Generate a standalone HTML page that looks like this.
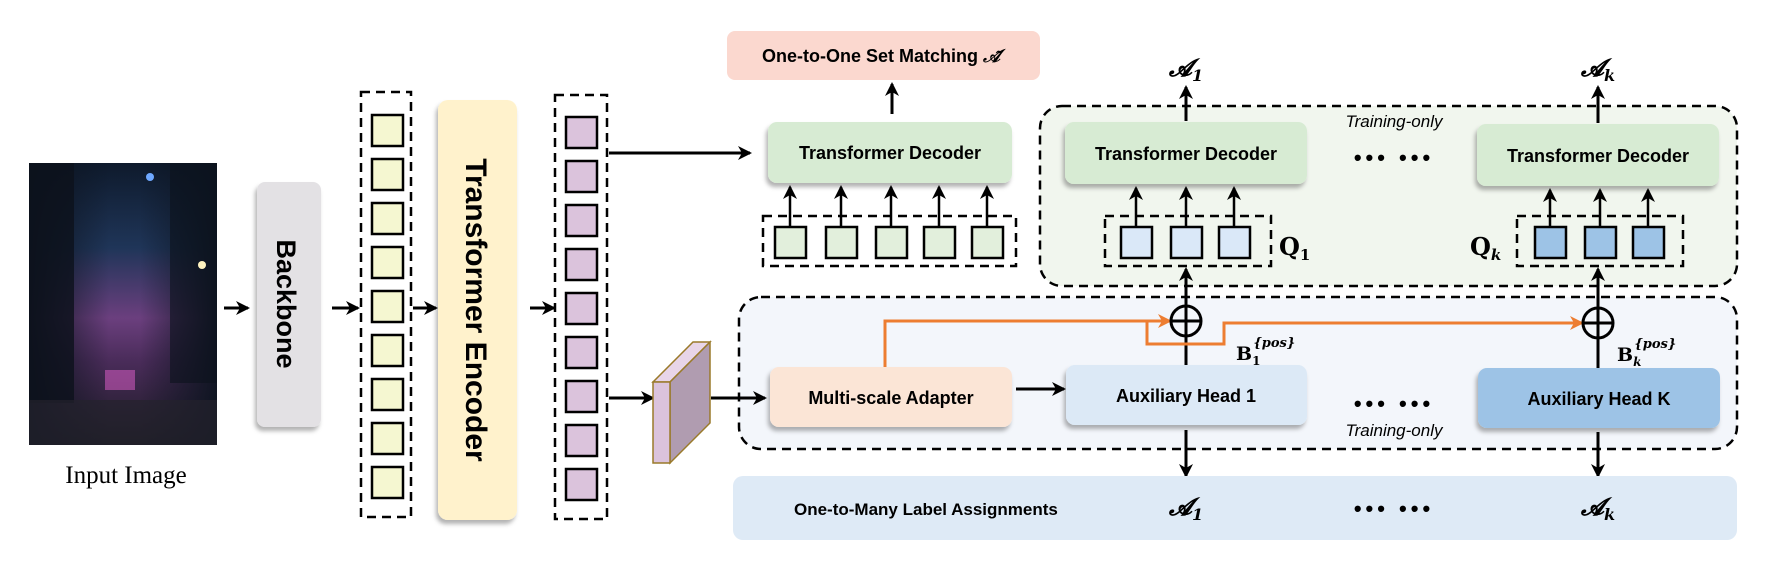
<!DOCTYPE html>
<html><head><meta charset="utf-8"><style>
html,body{margin:0;padding:0;background:#fff;}
svg{display:block;font-family:"Liberation Sans","DejaVu Sans",sans-serif;}
.b{font-weight:bold;}
</style></head><body>
<svg width="1769" height="582" viewBox="0 0 1769 582" xmlns="http://www.w3.org/2000/svg">
<defs>
<marker id="ah" markerWidth="14" markerHeight="14" refX="12" refY="7" orient="auto" markerUnits="userSpaceOnUse"><path d="M0,0 L14,7 L0,14 L4,7 Z" fill="#000"/></marker>
<marker id="ao" markerWidth="14" markerHeight="14" refX="12" refY="7" orient="auto" markerUnits="userSpaceOnUse"><path d="M0,0 L14,7 L0,14 L4,7 Z" fill="#ed7d31"/></marker>
<linearGradient id="sky" x1="0" y1="0" x2="0" y2="1">
<stop offset="0" stop-color="#0e1a2c"/><stop offset="0.3" stop-color="#1f3558"/><stop offset="0.55" stop-color="#6b3f7e"/><stop offset="0.7" stop-color="#4a2c5a"/><stop offset="1" stop-color="#1a1a22"/></linearGradient>
<linearGradient id="bl" x1="0" y1="0" x2="1" y2="0"><stop offset="0" stop-color="#0d1420" stop-opacity="0.95"/><stop offset="1" stop-color="#0d1420" stop-opacity="0"/></linearGradient>
<linearGradient id="br" x1="1" y1="0" x2="0" y2="0"><stop offset="0" stop-color="#0d1420" stop-opacity="0.95"/><stop offset="1" stop-color="#0d1420" stop-opacity="0"/></linearGradient>
<filter id="sh" x="-10%" y="-10%" width="130%" height="140%"><feDropShadow dx="-2" dy="4" stdDeviation="2" flood-color="#000" flood-opacity="0.3"/></filter>
</defs>

<!-- regions first -->
<rect x="1040" y="106" width="697" height="180" rx="22" fill="#f1f6ee" stroke="#000" stroke-width="2.5" stroke-dasharray="9,6"/>
<rect x="739" y="297" width="998" height="152" rx="22" fill="#f3f6fb" stroke="#000" stroke-width="2.5" stroke-dasharray="9,6"/>

<!-- input image -->
<rect x="29" y="163" width="188" height="282" fill="url(#sky)"/>
<rect x="29" y="163" width="80" height="282" fill="url(#bl)"/>
<rect x="140" y="163" width="77" height="282" fill="url(#br)"/>
<rect x="29" y="163" width="45" height="240" fill="#0c121c" opacity="0.8"/>
<rect x="170" y="163" width="47" height="220" fill="#0c121c" opacity="0.6"/>
<circle cx="150" cy="177" r="4" fill="#6fa8ff"/>
<circle cx="202" cy="265" r="4" fill="#fff3c0"/>
<rect x="105" y="370" width="30" height="20" fill="#e65fd0" opacity="0.5"/>
<rect x="29" y="400" width="188" height="45" fill="#24222c" opacity="0.7"/>
<text x="126" y="483" font-family="Liberation Serif,serif" font-size="25" text-anchor="middle">Input Image</text>

<!-- backbone -->
<rect x="257" y="182" width="64" height="245" rx="8" fill="#e3e1e4" filter="url(#sh)"/>
<text transform="translate(277,304) rotate(90)" class="b" font-size="27" text-anchor="middle">Backbone</text>

<g stroke="#000" stroke-width="3" marker-end="url(#ah)">
<line x1="224" y1="308" x2="248" y2="308"/>
<line x1="332" y1="308" x2="358" y2="308"/>
<line x1="413" y1="308" x2="436" y2="308"/>
<line x1="530" y1="308" x2="554" y2="308"/>
</g>

<rect x="361" y="92" width="50" height="425" fill="none" stroke="#000" stroke-width="2.5" stroke-dasharray="9,6"/>
<g fill="#f5f7d1" stroke="#000" stroke-width="2.5">
<rect x="372" y="115" width="31" height="31"/><rect x="372" y="159" width="31" height="31"/><rect x="372" y="203" width="31" height="31"/><rect x="372" y="247" width="31" height="31"/><rect x="372" y="291" width="31" height="31"/><rect x="372" y="335" width="31" height="31"/><rect x="372" y="379" width="31" height="31"/><rect x="372" y="423" width="31" height="31"/><rect x="372" y="467" width="31" height="31"/>
</g>

<rect x="438" y="100" width="79" height="420" rx="10" fill="#fff2cc" filter="url(#sh)"/>
<text transform="translate(466,310) rotate(90)" class="b" font-size="30" text-anchor="middle">Transformer Encoder</text>

<rect x="555" y="95" width="52" height="424" fill="none" stroke="#000" stroke-width="2.5" stroke-dasharray="9,6"/>
<g fill="#dbc3dc" stroke="#000" stroke-width="2.5">
<rect x="566" y="117" width="31" height="31"/><rect x="566" y="161" width="31" height="31"/><rect x="566" y="205" width="31" height="31"/><rect x="566" y="249" width="31" height="31"/><rect x="566" y="293" width="31" height="31"/><rect x="566" y="337" width="31" height="31"/><rect x="566" y="381" width="31" height="31"/><rect x="566" y="425" width="31" height="31"/><rect x="566" y="469" width="31" height="31"/>
</g>

<g stroke="#000" stroke-width="3" marker-end="url(#ah)">
<line x1="609" y1="153" x2="750" y2="153"/>
<line x1="609" y1="398" x2="653" y2="398"/>
<line x1="711" y1="398" x2="765" y2="398"/>
</g>

<polygon points="653,382 670,382 710,342 693,342" fill="#e8d5e8" stroke="#9a7a2a" stroke-width="1.5"/>
<polygon points="670,382 710,342 710,423 670,463" fill="#b09cb0" stroke="#9a7a2a" stroke-width="1.5"/>
<rect x="653" y="382" width="17" height="81" fill="#dbc3dc" stroke="#9a7a2a" stroke-width="1.5"/>

<rect x="727" y="31" width="313" height="49" rx="8" fill="#fbd8cf"/>
<text x="881" y="62" class="b" font-size="18" text-anchor="middle">One-to-One Set Matching <tspan font-family="Liberation Serif,serif" font-style="italic">𝒜̃</tspan></text>
<line x1="892" y1="114" x2="892" y2="84" stroke="#000" stroke-width="3" marker-end="url(#ah)"/>

<rect x="768" y="122" width="244" height="61" rx="9" fill="#d7ebd3" filter="url(#sh)"/>
<text x="890" y="159" class="b" font-size="18" text-anchor="middle">Transformer Decoder</text>
<rect x="763" y="216" width="253" height="50" fill="none" stroke="#000" stroke-width="2.5" stroke-dasharray="9,6"/>
<g fill="#e2efdc" stroke="#000" stroke-width="2.5">
<rect x="775" y="227" width="31" height="31"/><rect x="826" y="227" width="31" height="31"/><rect x="876" y="227" width="31" height="31"/><rect x="924" y="227" width="31" height="31"/><rect x="972" y="227" width="31" height="31"/>
</g>
<g stroke="#000" stroke-width="2.5" marker-end="url(#ah)">
<line x1="790" y1="227" x2="790" y2="187"/><line x1="841" y1="227" x2="841" y2="187"/><line x1="891" y1="227" x2="891" y2="187"/><line x1="939" y1="227" x2="939" y2="187"/><line x1="987" y1="227" x2="987" y2="187"/>
</g>

<text x="1394" y="127" font-style="italic" font-size="17" text-anchor="middle">Training-only</text>
<text x="1394" y="165" class="b" font-size="22" text-anchor="middle" letter-spacing="4">••• •••</text>

<rect x="1065" y="122" width="242" height="62" rx="9" fill="#d7ebd3" filter="url(#sh)"/>
<text x="1186" y="160" class="b" font-size="18" text-anchor="middle">Transformer Decoder</text>
<rect x="1477" y="124" width="242" height="62" rx="9" fill="#d7ebd3" filter="url(#sh)"/>
<text x="1598" y="162" class="b" font-size="18" text-anchor="middle">Transformer Decoder</text>

<text x="1186" y="76" font-family="DejaVu Serif,serif" font-weight="bold" font-style="italic" font-size="24" text-anchor="middle">𝓐<tspan font-size="16" dy="5">1</tspan></text>
<text x="1598" y="76" font-family="DejaVu Serif,serif" font-weight="bold" font-style="italic" font-size="24" text-anchor="middle">𝓐<tspan font-size="16" dy="5">k</tspan></text>
<g stroke="#000" stroke-width="3" marker-end="url(#ah)">
<line x1="1186" y1="121" x2="1186" y2="87"/>
<line x1="1598" y1="123" x2="1598" y2="87"/>
</g>

<rect x="1105" y="216" width="166" height="50" fill="none" stroke="#000" stroke-width="2.5" stroke-dasharray="9,6"/>
<g fill="#dae8f8" stroke="#000" stroke-width="2.5">
<rect x="1121" y="227" width="31" height="31"/><rect x="1171" y="227" width="31" height="31"/><rect x="1219" y="227" width="31" height="31"/>
</g>
<rect x="1517" y="216" width="166" height="50" fill="none" stroke="#000" stroke-width="2.5" stroke-dasharray="9,6"/>
<g fill="#9dc3e6" stroke="#000" stroke-width="2.5">
<rect x="1535" y="227" width="31" height="31"/><rect x="1585" y="227" width="31" height="31"/><rect x="1633" y="227" width="31" height="31"/>
</g>
<g stroke="#000" stroke-width="2.5" marker-end="url(#ah)">
<line x1="1136" y1="227" x2="1136" y2="188"/><line x1="1186" y1="227" x2="1186" y2="188"/><line x1="1234" y1="227" x2="1234" y2="188"/>
<line x1="1550" y1="227" x2="1550" y2="190"/><line x1="1600" y1="227" x2="1600" y2="190"/><line x1="1648" y1="227" x2="1648" y2="190"/>
</g>
<text x="1279" y="255" font-family="DejaVu Serif,serif" font-weight="bold" font-size="24">Q<tspan font-size="15" dy="5">1</tspan></text>
<text x="1470" y="255" font-family="DejaVu Serif,serif" font-weight="bold" font-size="24">Q<tspan font-size="15" dy="5" font-style="italic">k</tspan></text>

<g stroke="#000" stroke-width="3">
<line x1="1186" y1="365" x2="1186" y2="337"/>
<line x1="1186" y1="306" x2="1186" y2="269" marker-end="url(#ah)"/>
<line x1="1598" y1="368" x2="1598" y2="337"/>
<line x1="1598" y1="308" x2="1598" y2="269" marker-end="url(#ah)"/>
</g>
<g fill="none" stroke="#ed7d31" stroke-width="3">
<polyline points="885,367 885,321 1170,321" marker-end="url(#ao)"/>
<polyline points="1147,321 1147,344 1224,344 1224,323 1582,323" marker-end="url(#ao)"/>
</g>
<g fill="none" stroke="#000" stroke-width="3">
<circle cx="1186" cy="321" r="15"/><line x1="1171" y1="321" x2="1201" y2="321"/><line x1="1186" y1="306" x2="1186" y2="336"/>
<circle cx="1598" cy="323" r="15"/><line x1="1583" y1="323" x2="1613" y2="323"/><line x1="1598" y1="308" x2="1598" y2="338"/>
</g>
<text x="1236" y="360" font-family="DejaVu Serif,serif" font-weight="bold" font-size="19">B<tspan font-size="12" dy="5">1</tspan><tspan font-size="13" font-style="italic" dx="-7" dy="-18">{pos}</tspan></text>
<text x="1617" y="361" font-family="DejaVu Serif,serif" font-weight="bold" font-size="19">B<tspan font-size="12" dy="5" font-style="italic">k</tspan><tspan font-size="13" font-style="italic" dx="-7" dy="-18">{pos}</tspan></text>

<rect x="770" y="367" width="242" height="60" rx="9" fill="#fbe5d6" filter="url(#sh)"/>
<text x="891" y="404" class="b" font-size="18" text-anchor="middle">Multi-scale Adapter</text>
<line x1="1016" y1="389" x2="1064" y2="389" stroke="#000" stroke-width="3" marker-end="url(#ah)"/>
<rect x="1066" y="365" width="241" height="60" rx="9" fill="#dce9f6" filter="url(#sh)"/>
<text x="1186" y="402" class="b" font-size="18" text-anchor="middle">Auxiliary Head 1</text>
<rect x="1478" y="368" width="242" height="60" rx="9" fill="#9dc3e6" filter="url(#sh)"/>
<text x="1599" y="405" class="b" font-size="18" text-anchor="middle">Auxiliary Head K</text>
<text x="1394" y="411" class="b" font-size="22" text-anchor="middle" letter-spacing="4">••• •••</text>
<text x="1394" y="436" font-style="italic" font-size="17" text-anchor="middle">Training-only</text>

<g stroke="#000" stroke-width="3" marker-end="url(#ah)">
<line x1="1186" y1="430" x2="1186" y2="476"/>
<line x1="1598" y1="432" x2="1598" y2="476"/>
</g>

<rect x="733" y="476" width="1004" height="64" rx="10" fill="#deeaf6"/>
<text x="794" y="515" class="b" font-size="17">One-to-Many Label Assignments</text>
<text x="1186" y="515" font-family="DejaVu Serif,serif" font-weight="bold" font-style="italic" font-size="24" text-anchor="middle">𝓐<tspan font-size="16" dy="5">1</tspan></text>
<text x="1394" y="516" class="b" font-size="22" text-anchor="middle" letter-spacing="4">••• •••</text>
<text x="1598" y="515" font-family="DejaVu Serif,serif" font-weight="bold" font-style="italic" font-size="24" text-anchor="middle">𝓐<tspan font-size="16" dy="5">k</tspan></text>
</svg>
</body></html>
